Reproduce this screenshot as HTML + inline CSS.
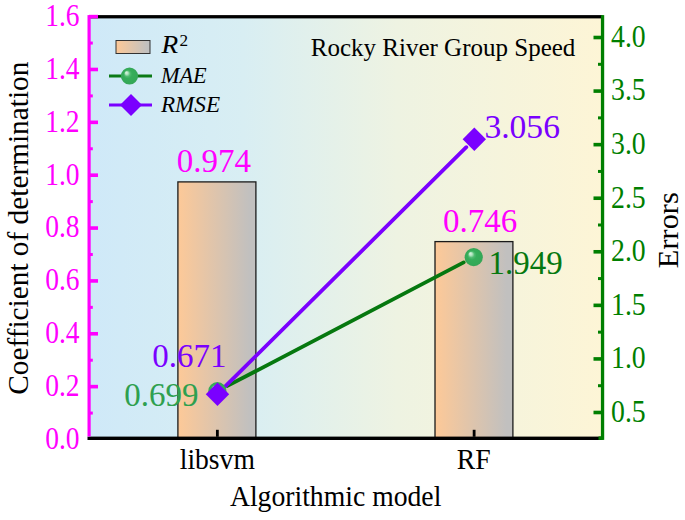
<!DOCTYPE html>
<html>
<head>
<meta charset="utf-8">
<title>Chart</title>
<style>
html,body{margin:0;padding:0;background:#fff;}
body{width:685px;height:520px;overflow:hidden;}
svg{display:block;}
text{font-family:"Liberation Serif",serif;}
</style>
</head>
<body>
<svg width="685" height="520" viewBox="0 0 685 520">
<defs>
<linearGradient id="bg" x1="0" y1="0" x2="1" y2="0">
<stop offset="0" stop-color="#cfe9f8"/>
<stop offset="0.3" stop-color="#d8eef3"/>
<stop offset="0.6" stop-color="#eef3e2"/>
<stop offset="1" stop-color="#fdf5d6"/>
</linearGradient>
<linearGradient id="bar" x1="0" y1="0" x2="1" y2="0">
<stop offset="0" stop-color="#fdc998"/>
<stop offset="0.92" stop-color="#c1c0bf"/>
<stop offset="1" stop-color="#c1c0bf"/>
</linearGradient>
<radialGradient id="ball" cx="0.5" cy="0.5" r="0.5" fx="0.3" fy="0.29">
<stop offset="0" stop-color="#d9f3e0"/>
<stop offset="0.16" stop-color="#b5e6c3"/>
<stop offset="0.34" stop-color="#4fbb70"/>
<stop offset="0.5" stop-color="#36ad5a"/>
<stop offset="0.88" stop-color="#33a957"/>
<stop offset="1" stop-color="#3aa45a"/>
</radialGradient>
</defs>
<rect width="685" height="520" fill="#fff"/>
<rect x="89.0" y="16.7" width="513.5" height="421.3" fill="url(#bg)"/>
<rect x="177.9" y="181.9" width="78.0" height="256.10" fill="url(#bar)" stroke="#1a1a1a" stroke-width="1.3"/>
<rect x="435.0" y="241.6" width="77.9" height="196.40" fill="url(#bar)" stroke="#1a1a1a" stroke-width="1.3"/>
<rect x="89.0" y="15.1" width="513.5" height="3.3" fill="#000"/>
<rect x="87.5" y="436.6" width="515.0" height="3.4" fill="#000"/>
<rect x="215.97" y="429.8" width="2.8" height="7" fill="#000"/>
<rect x="472.73" y="429.8" width="2.8" height="7" fill="#000"/>
<g fill="#ff00ff">
<rect x="87.5" y="15.1" width="3.2" height="421.3"/>
<rect x="89.0" y="411.57" width="3.8" height="3"/>
<rect x="89.0" y="384.84" width="9" height="3.6"/>
<rect x="89.0" y="358.71" width="3.8" height="3"/>
<rect x="89.0" y="331.98" width="9" height="3.6"/>
<rect x="89.0" y="305.85" width="3.8" height="3"/>
<rect x="89.0" y="279.12" width="9" height="3.6"/>
<rect x="89.0" y="252.99" width="3.8" height="3"/>
<rect x="89.0" y="226.26" width="9" height="3.6"/>
<rect x="89.0" y="200.13" width="3.8" height="3"/>
<rect x="89.0" y="173.40" width="9" height="3.6"/>
<rect x="89.0" y="147.27" width="3.8" height="3"/>
<rect x="89.0" y="120.54" width="9" height="3.6"/>
<rect x="89.0" y="94.41" width="3.8" height="3"/>
<rect x="89.0" y="67.68" width="9" height="3.6"/>
<rect x="89.0" y="41.55" width="3.8" height="3"/>
<rect x="89.0" y="14.82" width="9" height="3.6"/>
</g>
<g fill="#ff00ff" font-size="31" text-anchor="end">
<text transform="translate(79.6 448.80) scale(0.888 1)">0.0</text>
<text transform="translate(79.6 395.94) scale(0.888 1)">0.2</text>
<text transform="translate(79.6 343.08) scale(0.888 1)">0.4</text>
<text transform="translate(79.6 290.22) scale(0.888 1)">0.6</text>
<text transform="translate(79.6 237.36) scale(0.888 1)">0.8</text>
<text transform="translate(79.6 184.50) scale(0.888 1)">1.0</text>
<text transform="translate(79.6 131.64) scale(0.888 1)">1.2</text>
<text transform="translate(79.6 78.78) scale(0.888 1)">1.4</text>
<text transform="translate(79.6 25.92) scale(0.888 1)">1.6</text>
</g>
<g fill="#007f00">
<rect x="600.9" y="15.1" width="3.3" height="424.8"/>
<rect x="598.5" y="436.4" width="4" height="3.5"/>
<rect x="593.5" y="410.70" width="9" height="3.6"/>
<rect x="598.0" y="384.21" width="4.5" height="3"/>
<rect x="593.5" y="357.13" width="9" height="3.6"/>
<rect x="598.0" y="330.64" width="4.5" height="3"/>
<rect x="593.5" y="303.56" width="9" height="3.6"/>
<rect x="598.0" y="277.07" width="4.5" height="3"/>
<rect x="593.5" y="249.99" width="9" height="3.6"/>
<rect x="598.0" y="223.50" width="4.5" height="3"/>
<rect x="593.5" y="196.42" width="9" height="3.6"/>
<rect x="598.0" y="169.94" width="4.5" height="3"/>
<rect x="593.5" y="142.85" width="9" height="3.6"/>
<rect x="598.0" y="116.37" width="4.5" height="3"/>
<rect x="593.5" y="89.28" width="9" height="3.6"/>
<rect x="598.0" y="62.80" width="4.5" height="3"/>
<rect x="593.5" y="35.71" width="9" height="3.6"/>
</g>
<g fill="#007f00" font-size="31">
<text transform="translate(611.0 421.80) scale(0.896 1)">0.5</text>
<text transform="translate(611.0 368.23) scale(0.896 1)">1.0</text>
<text transform="translate(611.0 314.66) scale(0.896 1)">1.5</text>
<text transform="translate(611.0 261.09) scale(0.896 1)">2.0</text>
<text transform="translate(611.0 207.52) scale(0.896 1)">2.5</text>
<text transform="translate(611.0 153.95) scale(0.896 1)">3.0</text>
<text transform="translate(611.0 100.38) scale(0.896 1)">3.5</text>
<text transform="translate(611.0 46.81) scale(0.896 1)">4.0</text>
</g>
<line x1="227.39" y1="385.94" x2="463.71" y2="262.39" stroke="#06780f" stroke-width="3.8" stroke-linecap="round"/>
<line x1="225.50" y1="386.22" x2="466.30" y2="147.21" stroke="#7a00ff" stroke-width="3.8" stroke-linecap="round"/>
<circle cx="217.38" cy="391.18" r="9.1" fill="url(#ball)"/>
<circle cx="473.73" cy="257.15" r="9.1" fill="url(#ball)"/>
<path d="M217.47 382.48 L229.17 394.18 L217.47 405.88 L205.78 394.18Z" fill="#7a00ff"/>
<path d="M474.32 127.55 L486.02 139.25 L474.32 150.95 L462.62 139.25Z" fill="#7a00ff"/>
<g font-size="33">
<text x="176.8" y="171.6" fill="#ff00ff">0.974</text>
<text x="442.9" y="232.2" fill="#ff00ff">0.746</text>
<text x="152.2" y="367" fill="#7a00ff">0.671</text>
<text x="124.2" y="406.1" fill="#2ea04f">0.699</text>
<text x="484.4" y="138.2" font-size="33.6" fill="#7a00ff">3.056</text>
<text x="488.6" y="273.5" fill="#06780f">1.949</text>
</g>
<text x="310.8" y="55.5" font-size="25" fill="#000">Rocky River Group Speed</text>
<rect x="116" y="40.5" width="34" height="13" fill="url(#bar)" stroke="#333" stroke-width="1"/>
<line x1="109" y1="76" x2="152" y2="76" stroke="#0b7a16" stroke-width="3"/>
<circle cx="129.5" cy="76" r="8.6" fill="url(#ball)"/>
<line x1="109" y1="105" x2="152" y2="105" stroke="#7a00ff" stroke-width="3"/>
<path d="M131 94 L142 105 L131 116 L120 105Z" fill="#7a00ff"/>
<g font-size="24" font-style="italic" fill="#000">
<text transform="translate(161.6 53.1) scale(1.05 1)" font-size="26">R</text>
<text x="179.5" y="46.4" font-size="17.2" font-style="normal">2</text>
<text transform="translate(160.9 82.7) scale(0.929 1)" font-size="24">MAE</text>
<text transform="translate(161.0 111.6) scale(0.963 1)" font-size="24">RMSE</text>
</g>
<text transform="translate(28.0 228.2) rotate(-90) scale(0.968 1)" text-anchor="middle" font-size="30.3" fill="#000">Coefficient of determination</text>
<text transform="translate(678.2 230.2) rotate(-90)" text-anchor="middle" font-size="30.4" fill="#000">Errors</text>
<text transform="translate(217.3 469.4) scale(0.905 1)" text-anchor="middle" font-size="30.5" fill="#000">libsvm</text>
<text transform="translate(473.8 469.4) scale(0.94 1)" text-anchor="middle" font-size="29.5" fill="#000">RF</text>
<text transform="translate(335.6 506.3) scale(0.955 1)" text-anchor="middle" font-size="29" fill="#000">Algorithmic model</text>
</svg>
</body>
</html>
